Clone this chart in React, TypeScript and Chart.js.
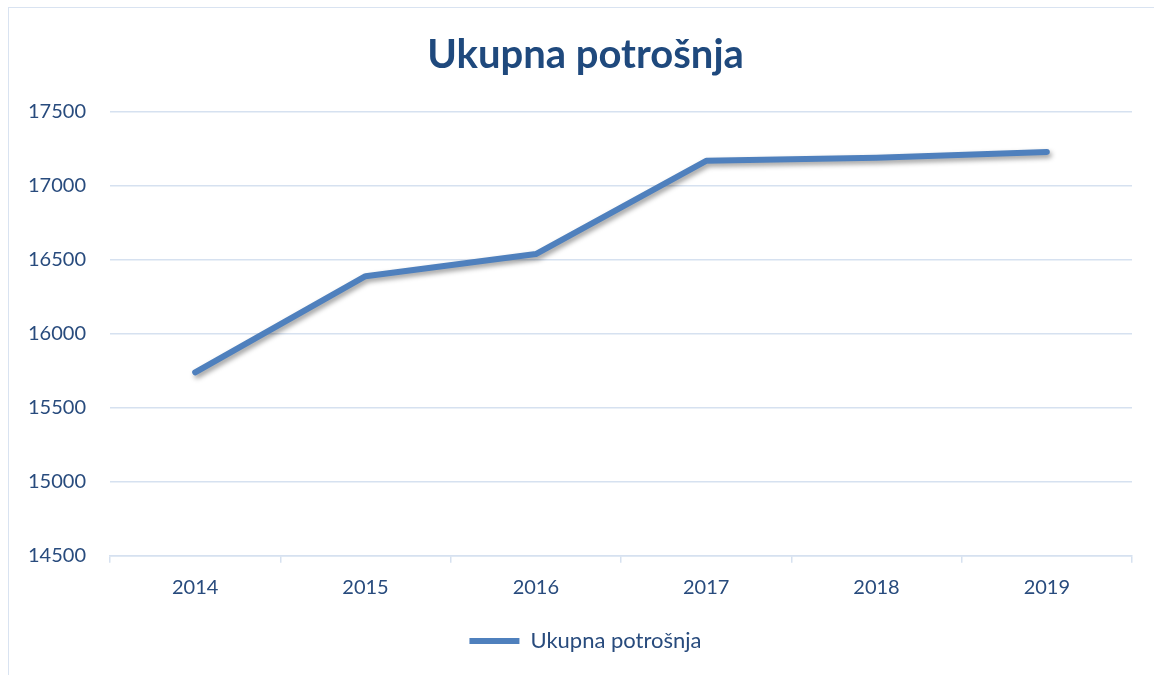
import React, { useEffect, useRef } from "react";
import { Chart, registerables } from "chart.js";

Chart.register(...registerables);

const categories = ["2014", "2015", "2016", "2017", "2018", "2019"];
const seriesLabel = "Ukupna potrošnja";
const seriesValues = [15740, 16390, 16540, 17170, 17190, 17230];
const chartTitle = "Ukupna potrošnja";
const yMin = 14500;
const yMax = 17500;
const yStep = 500;

const FONT = "Lato, 'Open Sans', sans-serif";
const TEXT = "#284b7d";
const GRID = "#d6e1f0";
const LINE = "#4f80bd";

const shadowPlugin = {
  id: "lineShadow",
  beforeDatasetsDraw(chart: any) {
    const ctx = chart.ctx;
    ctx.save();
    ctx.shadowColor = "rgba(0,0,0,0.38)";
    ctx.shadowBlur = 5;
    ctx.shadowOffsetX = 2;
    ctx.shadowOffsetY = 3;
  },
  afterDatasetsDraw(chart: any) {
    chart.ctx.restore();
  },
};

export default function App() {
  const ref = useRef<HTMLCanvasElement | null>(null);
  useEffect(() => {
    if (!ref.current) return;
    const chart = new Chart(ref.current, {
      type: "line",
      data: {
        labels: categories,
        datasets: [
          {
            label: seriesLabel,
            data: seriesValues,
            borderColor: LINE,
            backgroundColor: LINE,
            borderWidth: 6,
            borderCapStyle: "round",
            borderJoinStyle: "round",
            pointRadius: 0,
            pointHoverRadius: 0,
            tension: 0,
            yAxisID: "y",
          },
        ],
      },
      plugins: [shadowPlugin],
      options: {
        animation: false,
        responsive: false,
        maintainAspectRatio: false,
        layout: { padding: { left: 0, right: 0, top: 0, bottom: 26 } },
        plugins: {
          title: {
            display: true,
            text: chartTitle,
            color: "#1f497d",
            font: { family: FONT, size: 40, weight: "bold", lineHeight: 1.2 },
            padding: { top: 23, bottom: 33 },
          },
          legend: {
            display: true,
            position: "bottom",
            labels: {
              usePointStyle: true,
              pointStyle: "line",
              pointStyleWidth: 50,
              color: TEXT,
              font: { family: FONT, size: 22 },
              padding: 18,
            },
          },
          tooltip: { enabled: false },
        },
        scales: {
          x: {
            offset: true,
            grid: {
              offset: true,
              drawOnChartArea: false,
              drawTicks: true,
              tickLength: 7,
              color: GRID,
              lineWidth: 1.5,
            },
            border: { display: true, color: GRID, width: 1.5 },
            ticks: {
              color: TEXT,
              font: { family: FONT, size: 20, lineHeight: 1.2 },
              padding: 12.6,
              maxRotation: 0,
            },
          },
          y: {
            position: "left",
            min: yMin,
            max: yMax,
            afterFit(scale: any) {
              scale.width = 101;
            },
            grid: { color: GRID, lineWidth: 1.5, drawTicks: false },
            border: { display: false },
            ticks: {
              stepSize: yStep,
              color: TEXT,
              font: { family: FONT, size: 20 },
              padding: 24,
              callback: (v: any) => String(v),
            },
          },
          yRightSpace: {
            type: "linear",
            position: "right",
            min: yMin,
            max: yMax,
            afterFit(scale: any) {
              scale.width = 30;
            },
            grid: { display: false },
            border: { display: false },
            ticks: { display: false },
          },
        },
      },
    });
    return () => chart.destroy();
  }, []);

  return (
    <div style={{ position: "fixed", left: 0, top: 0, width: 1154, height: 675, overflow: "hidden", background: "#fff" }}>
      <div
        style={{
          position: "absolute",
          left: 8,
          top: 7,
          width: 1153,
          height: 680,
          border: "1.5px solid #d9e3f1",
        }}
      >
        <canvas ref={ref} width={1153} height={680} style={{ display: "block", width: 1153, height: 680 }} />
      </div>
    </div>
  );
}
